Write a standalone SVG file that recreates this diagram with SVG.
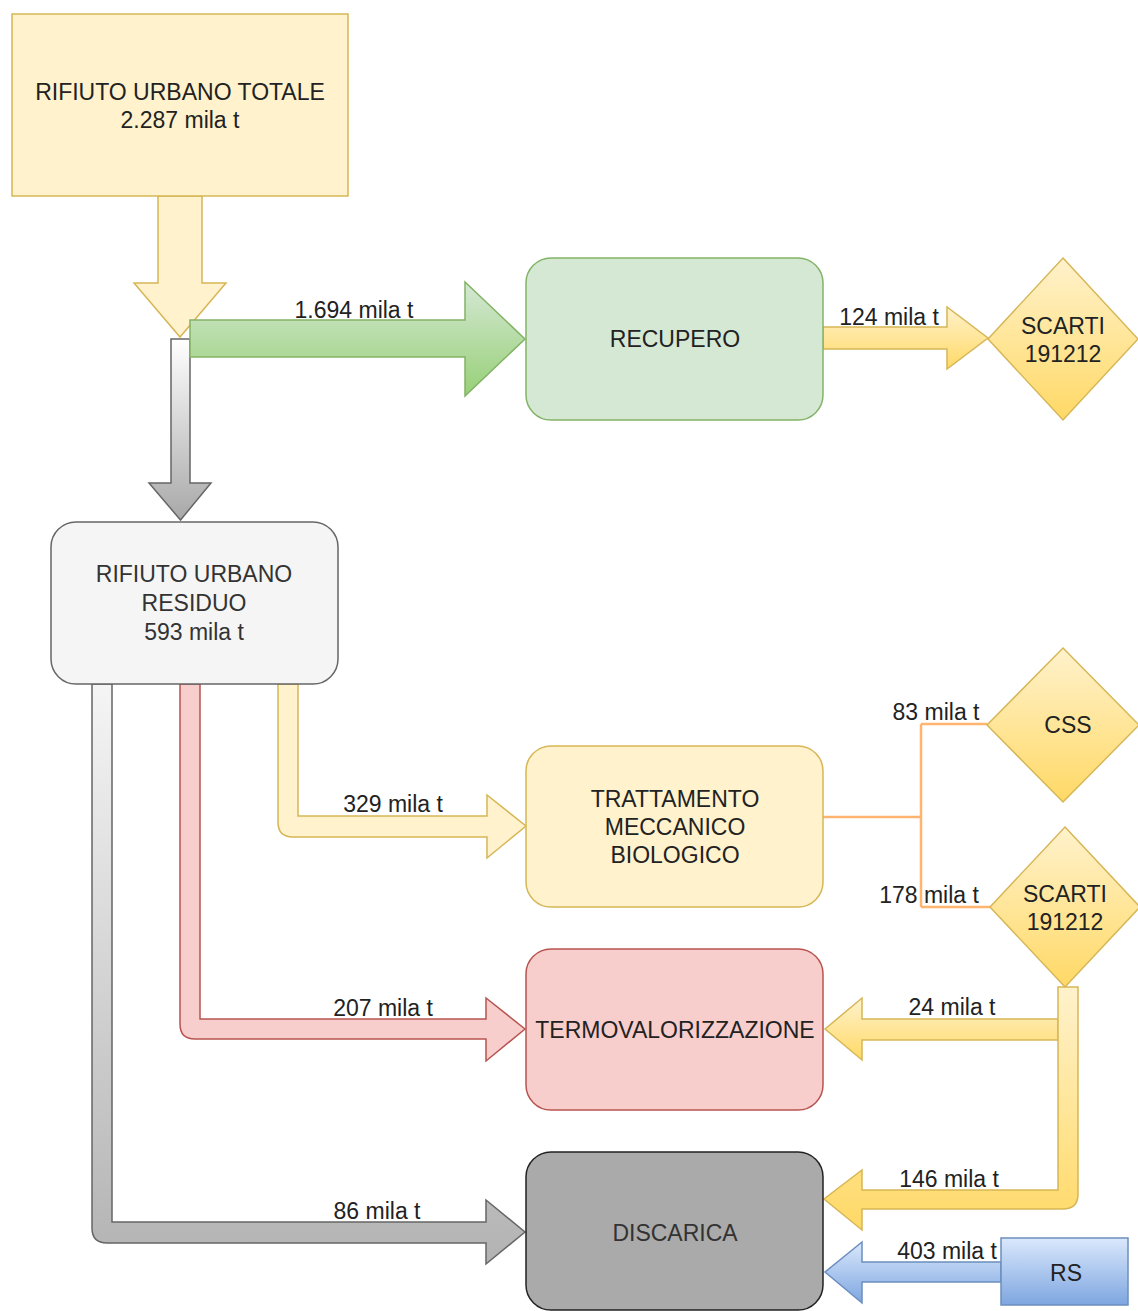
<svg xmlns="http://www.w3.org/2000/svg" width="1138" height="1311" viewBox="0 0 1138 1311">
<style>
text{font-family:"Liberation Sans",Arial,sans-serif;font-size:23px;fill:#222;text-anchor:middle}
.lbl{font-size:23px;fill:#222}
.grey{fill:#333}
.orange{fill:none;stroke:#FFB570;stroke-width:2.5}
</style>
<defs>
<linearGradient id="gY" x1="0" y1="0" x2="0" y2="1"><stop offset="0" stop-color="#fff2cc"/><stop offset="1" stop-color="#ffd966"/></linearGradient>
<linearGradient id="gG" x1="0" y1="0" x2="0" y2="1"><stop offset="0" stop-color="#d5e8d4"/><stop offset="1" stop-color="#97d077"/></linearGradient>
<linearGradient id="gK" x1="0" y1="0" x2="0" y2="1"><stop offset="0" stop-color="#f5f5f5"/><stop offset="1" stop-color="#b3b3b3"/></linearGradient>
<linearGradient id="gK1" x1="0" y1="0" x2="0" y2="1"><stop offset="0" stop-color="#ffffff"/><stop offset="1" stop-color="#a8a8a8"/></linearGradient>
<linearGradient id="gB" x1="0" y1="0" x2="0" y2="1"><stop offset="0" stop-color="#dae8fc"/><stop offset="1" stop-color="#7ea6e0"/></linearGradient>
</defs>

<g id="connectors">
<path id="e-total" d="M158,196 L202,196 L202,283 L226,283 L180,337 L134,283 L158,283 Z" fill="#fff2cc" stroke="#d6b656" stroke-width="1.5"/>
<path id="e-residuo" d="M171,339 L190,339 L190,483 L211,483 L180.5,520 L149,483 L171,483 Z" fill="url(#gK1)" stroke="#666" stroke-width="1.5"/>
<path id="e-recupero" d="M190,320 L465,320 L465,282 L525,339 L465,396 L465,357 L190,357 Z" fill="url(#gG)" stroke="#82b366" stroke-width="1.5"/>
<path id="e-scarti1" d="M823,327 L947,327 L947,307 L988,338 L947,369 L947,349 L823,349 Z" fill="url(#gY)" stroke="#d6b656" stroke-width="1.5"/>
<path id="e-discarica" d="M92,684 L112,684 L112,1222 L486,1222 L486,1200 L525,1232 L486,1264 L486,1243 L107,1243 Q92,1243 92,1228 Z" fill="url(#gK)" stroke="#666" stroke-width="1.5"/>
<path id="e-termo" d="M180,684 L200,684 L200,1019 L486,1019 L486,998 L525,1029 L486,1061 L486,1039 L195,1039 Q180,1039 180,1024 Z" fill="#f8cecc" stroke="#b85450" stroke-width="1.5"/>
<path id="e-tmb" d="M278,684 L298,684 L298,816 L487,816 L487,795 L526,826 L487,858 L487,837 L293,837 Q278,837 278,822 Z" fill="#fff2cc" stroke="#d6b656" stroke-width="1.5"/>
<path id="e-css" class="orange" d="M823,817 L921,817 M921,724 L921,907 M921,724 L987,724 M921,907 L990,907"/>
<path id="e-24" d="M1058,1019 L862,1019 L862,998 L825,1029 L862,1060 L862,1040 L1058,1040 Z" fill="url(#gY)" stroke="#d6b656" stroke-width="1.5"/>
<path id="e-146" d="M1058,987 L1078,987 L1078,1194 Q1078,1209 1063,1209 L862,1209 L862,1230 L824,1199 L862,1170 L862,1190 L1058,1190 Z" fill="url(#gY)" stroke="#d6b656" stroke-width="1.5"/>
<path id="e-403" d="M1001,1262 L862,1262 L862,1242 L825,1272 L862,1303 L862,1282 L1001,1282 Z" fill="url(#gB)" stroke="#6c8ebf" stroke-width="1.5"/>
<text class="lbl" x="354" y="318">1.694 mila t</text>
<text class="lbl" x="889" y="325">124 mila t</text>
<text class="lbl" x="393" y="812">329 mila t</text>
<text class="lbl" x="936" y="720">83 mila t</text>
<text class="lbl" x="929" y="903">178 mila t</text>
<text class="lbl" x="383" y="1016">207 mila t</text>
<text class="lbl" x="952" y="1015">24 mila t</text>
<text class="lbl" x="949" y="1187">146 mila t</text>
<text class="lbl" x="947" y="1259">403 mila t</text>
<text class="lbl" x="377" y="1219">86 mila t</text>
</g>

<g id="n-totale">
<rect x="12" y="14" width="336" height="182" fill="#fff2cc" stroke="#d6b656" stroke-width="1.5"/>
<text x="180" y="100">RIFIUTO URBANO TOTALE</text>
<text x="180" y="128">2.287 mila t</text>
</g>
<g id="n-recupero">
<rect x="526" y="258" width="297" height="162" rx="25" fill="#d5e8d4" stroke="#82b366" stroke-width="1.5"/>
<text x="675" y="347">RECUPERO</text>
</g>
<g id="n-scarti1">
<polygon points="1063,258 1138,339 1063,420 988,339" fill="url(#gY)" stroke="#d6b656" stroke-width="1.5"/>
<text x="1063" y="334">SCARTI</text>
<text x="1063" y="362">191212</text>
</g>
<g id="n-residuo">
<rect x="51" y="522" width="287" height="162" rx="25" fill="#f5f5f5" stroke="#666" stroke-width="1.5"/>
<text class="grey" x="194" y="582">RIFIUTO URBANO</text>
<text class="grey" x="194" y="611">RESIDUO</text>
<text class="grey" x="194" y="640">593 mila t</text>
</g>
<g id="n-tmb">
<rect x="526" y="746" width="297" height="161" rx="25" fill="#fff2cc" stroke="#d6b656" stroke-width="1.5"/>
<text x="675" y="807">TRATTAMENTO</text>
<text x="675" y="835">MECCANICO</text>
<text x="675" y="863">BIOLOGICO</text>
</g>
<g id="n-css">
<polygon points="1063,648 1139,725 1063,802 987,725" fill="url(#gY)" stroke="#d6b656" stroke-width="1.5"/>
<text x="1068" y="733">CSS</text>
</g>
<g id="n-scarti2">
<polygon points="1065,827 1140,907 1065,987 990,907" fill="url(#gY)" stroke="#d6b656" stroke-width="1.5"/>
<text x="1065" y="902">SCARTI</text>
<text x="1065" y="930">191212</text>
</g>
<g id="n-termo">
<rect x="526" y="949" width="297" height="161" rx="25" fill="#f8cecc" stroke="#b85450" stroke-width="1.5"/>
<text x="675" y="1038">TERMOVALORIZZAZIONE</text>
</g>
<g id="n-discarica">
<rect x="526" y="1152" width="297" height="158" rx="25" fill="#aaaaaa" stroke="#222" stroke-width="1.5"/>
<text class="grey" x="675" y="1241">DISCARICA</text>
</g>
<g id="n-rs">
<rect x="1001" y="1238" width="127" height="67" fill="url(#gB)" stroke="#6c8ebf" stroke-width="1.5"/>
<text x="1066" y="1281">RS</text>
</g>
</svg>
